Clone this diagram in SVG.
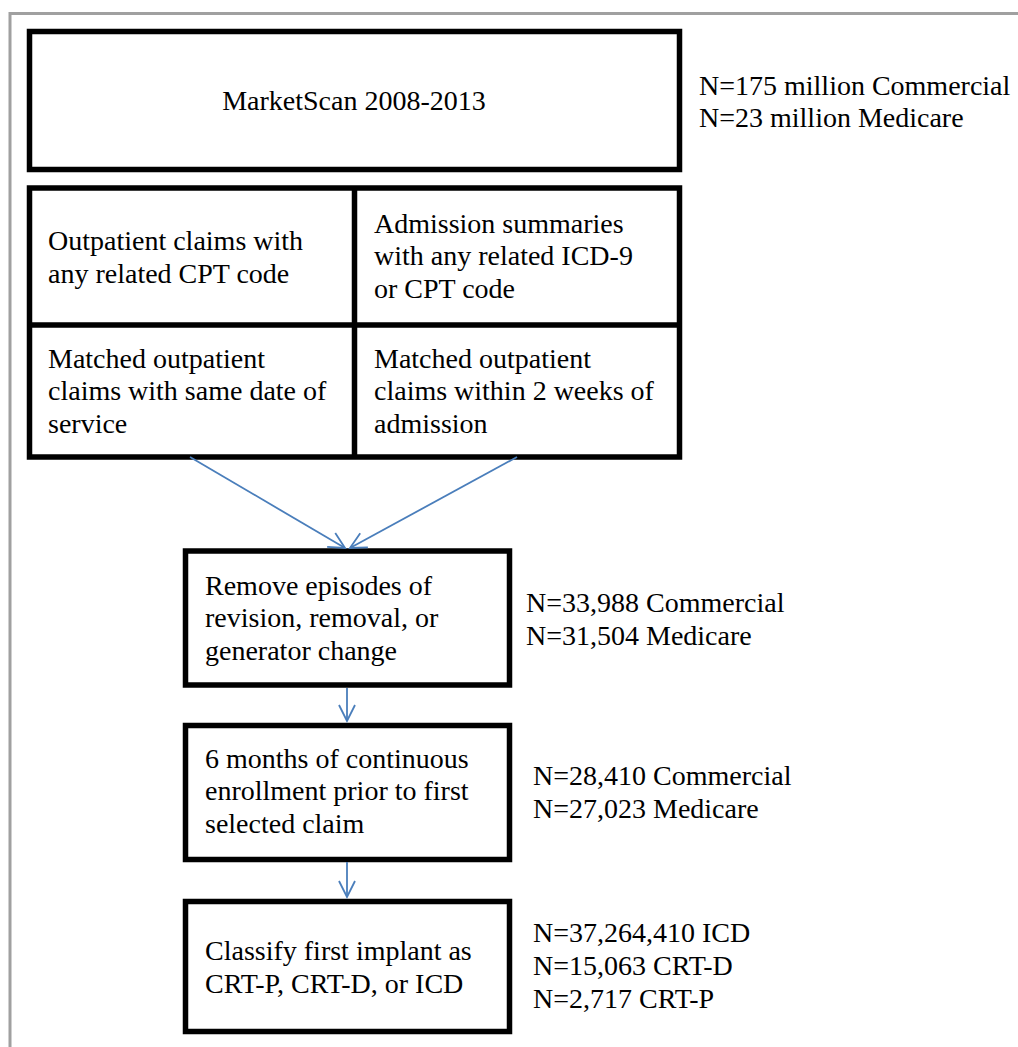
<svg xmlns="http://www.w3.org/2000/svg" width="1018" height="1047" viewBox="0 0 1018 1047">
<defs>
<style>
.box{fill:#fff;stroke:#000;stroke-width:5.5}
.div{stroke:#000;stroke-width:5.5;fill:none}
.t{font-family:"Liberation Serif","Times New Roman",serif;font-size:28px;fill:#000}
.c{stroke:#4a7ebb;stroke-width:1.8;fill:none}
.frame{stroke:#a0a0a0;stroke-width:3;fill:none}
</style>
<marker id="ah" viewBox="0 0 20 20" refX="18" refY="10" markerWidth="20" markerHeight="20" markerUnits="userSpaceOnUse" orient="auto">
<path d="M2,2 L18,10 L2,18" fill="none" stroke="#4a7ebb" stroke-width="1.8"/>
</marker>
</defs>
<rect width="1018" height="1047" fill="#fff"/>
<path class="frame" d="M10,1047 V13.5 H1018"/>

<g id="marketscan">
<rect class="box" x="29.5" y="31.5" width="650" height="138"/>
<text class="t" x="354" y="110" text-anchor="middle">MarketScan 2008-2013</text>
</g>
<text class="t" x="699" y="95">N=175 million Commercial</text>
<text class="t" x="699" y="127">N=23 million Medicare</text>

<g id="grid">
<rect class="box" x="29.5" y="188" width="650" height="269"/>
<path class="div" d="M354.5,188 V457 M29.5,325 H679.5"/>
</g>
<g id="outpatient">
<text class="t" x="48" y="250">Outpatient claims with</text>
<text class="t" x="48" y="283">any related CPT code</text>
</g>
<g id="admission">
<text class="t" x="374" y="233">Admission summaries</text>
<text class="t" x="374" y="265">with any related ICD-9</text>
<text class="t" x="374" y="298">or CPT code</text>
</g>
<g id="matched-same-date">
<text class="t" x="48" y="368">Matched outpatient</text>
<text class="t" x="48" y="400">claims with same date of</text>
<text class="t" x="48" y="433">service</text>
</g>
<g id="matched-2weeks">
<text class="t" x="374" y="368">Matched outpatient</text>
<text class="t" x="374" y="400">claims within 2 weeks of</text>
<text class="t" x="374" y="433">admission</text>
</g>

<g id="remove">
<rect class="box" x="185.5" y="551" width="324" height="134"/>
<text class="t" x="205" y="595">Remove episodes of</text>
<text class="t" x="205" y="627">revision, removal, or</text>
<text class="t" x="205" y="660">generator change</text>
</g>
<text class="t" x="526" y="612">N=33,988 Commercial</text>
<text class="t" x="526" y="645">N=31,504 Medicare</text>

<g id="enrollment">
<rect class="box" x="185.5" y="725.5" width="324" height="134"/>
<text class="t" x="205" y="768">6 months of continuous</text>
<text class="t" x="205" y="800">enrollment prior to first</text>
<text class="t" x="205" y="833">selected claim</text>
</g>
<text class="t" x="533" y="785">N=28,410 Commercial</text>
<text class="t" x="533" y="818">N=27,023 Medicare</text>

<g id="classify">
<rect class="box" x="185.5" y="901.5" width="324" height="130"/>
<text class="t" x="205" y="960">Classify first implant as</text>
<text class="t" x="205" y="993">CRT-P, CRT-D, or ICD</text>
</g>
<text class="t" x="533" y="942">N=37,264,410 ICD</text>
<text class="t" x="533" y="975">N=15,063 CRT-D</text>
<text class="t" x="533" y="1008">N=2,717 CRT-P</text>

<g id="connectors">
<line class="c" x1="190" y1="457" x2="345" y2="548" marker-end="url(#ah)"/>
<line class="c" x1="517" y1="457" x2="350" y2="548" marker-end="url(#ah)"/>
<line class="c" x1="347" y1="688" x2="347" y2="721" marker-end="url(#ah)"/>
<line class="c" x1="347" y1="862" x2="347" y2="897" marker-end="url(#ah)"/>
</g>
</svg>
